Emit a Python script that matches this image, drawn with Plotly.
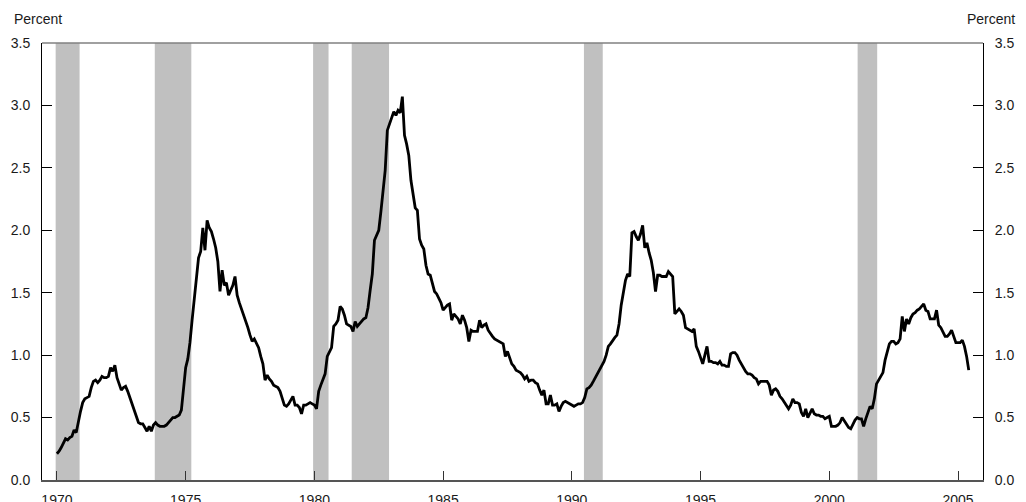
import plotly.graph_objects as go

# ---- data (monthly, Jan 1970 - Jun 2005) ----
start_year = 1970
v1970 = [0.21, 0.23, 0.26, 0.29, 0.33, 0.32, 0.34, 0.35, 0.40, 0.38, 0.48, 0.55]
v1971 = [0.62, 0.65, 0.66, 0.67, 0.74, 0.79, 0.80, 0.78, 0.80, 0.83, 0.82, 0.82]
v1972 = [0.83, 0.90, 0.87, 0.92, 0.82, 0.76, 0.72, 0.74, 0.75, 0.71, 0.66, 0.60]
v1973 = [0.55, 0.51, 0.46, 0.45, 0.45, 0.42, 0.39, 0.43, 0.39, 0.44, 0.46, 0.44]
v1974 = [0.43, 0.43, 0.43, 0.44, 0.46, 0.48, 0.50, 0.50, 0.51, 0.52, 0.56, 0.72]
v1975 = [0.90, 0.97, 1.10, 1.28, 1.45, 1.66, 1.78, 1.83, 2.02, 1.84, 2.08, 2.02]
v1976 = [1.99, 1.93, 1.86, 1.75, 1.51, 1.68, 1.56, 1.58, 1.48, 1.52, 1.56, 1.63]
v1977 = [1.48, 1.42, 1.37, 1.33, 1.28, 1.22, 1.16, 1.11, 1.13, 1.09, 1.06, 0.99]
v1978 = [0.93, 0.80, 0.84, 0.81, 0.79, 0.76, 0.75, 0.74, 0.71, 0.66, 0.60, 0.59]
v1979 = [0.61, 0.64, 0.67, 0.60, 0.60, 0.58, 0.53, 0.60, 0.60, 0.61, 0.62, 0.61]
v1980 = [0.60, 0.57, 0.71, 0.76, 0.80, 0.85, 0.99, 1.03, 1.06, 1.23, 1.25, 1.28]
v1981 = [1.39, 1.37, 1.32, 1.25, 1.24, 1.23, 1.19, 1.27, 1.23, 1.25, 1.27, 1.29]
v1982 = [1.30, 1.38, 1.52, 1.65, 1.92, 1.96, 2.00, 2.15, 2.30, 2.48, 2.80, 2.86]
v1983 = [2.90, 2.95, 2.92, 2.96, 2.94, 3.07, 2.76, 2.69, 2.60, 2.40, 2.30, 2.18]
v1984 = [2.16, 1.93, 1.88, 1.85, 1.72, 1.65, 1.64, 1.57, 1.51, 1.49, 1.46, 1.42]
v1985 = [1.36, 1.38, 1.40, 1.41, 1.28, 1.33, 1.31, 1.29, 1.25, 1.32, 1.28, 1.22]
v1986 = [1.11, 1.20, 1.19, 1.19, 1.19, 1.28, 1.22, 1.24, 1.25, 1.20, 1.17, 1.15]
v1987 = [1.13, 1.12, 1.11, 1.10, 1.09, 0.99, 1.03, 0.98, 0.93, 0.91, 0.88, 0.87]
v1988 = [0.86, 0.84, 0.81, 0.83, 0.79, 0.80, 0.80, 0.78, 0.77, 0.72, 0.68, 0.72]
v1989 = [0.61, 0.61, 0.68, 0.60, 0.60, 0.61, 0.55, 0.59, 0.62, 0.63, 0.62, 0.61]
v1990 = [0.60, 0.59, 0.60, 0.61, 0.61, 0.62, 0.66, 0.73, 0.74, 0.76, 0.79, 0.82]
v1991 = [0.85, 0.89, 0.92, 0.95, 1.00, 1.07, 1.09, 1.12, 1.14, 1.16, 1.25, 1.40]
v1992 = [1.52, 1.60, 1.65, 1.63, 1.98, 1.99, 1.95, 1.92, 1.97, 2.04, 1.86, 1.90]
v1993 = [1.82, 1.76, 1.66, 1.51, 1.64, 1.64, 1.63, 1.63, 1.63, 1.67, 1.65, 1.63]
v1994 = [1.33, 1.35, 1.37, 1.35, 1.32, 1.22, 1.21, 1.20, 1.19, 1.21, 1.07, 1.03]
v1995 = [0.98, 0.93, 1.00, 1.07, 0.95, 0.95, 0.94, 0.94, 0.93, 0.95, 0.92, 0.92]
v1996 = [0.91, 0.91, 1.01, 1.02, 1.02, 1.00, 0.96, 0.93, 0.89, 0.87, 0.85, 0.85]
v1997 = [0.84, 0.82, 0.81, 0.77, 0.79, 0.79, 0.79, 0.79, 0.76, 0.68, 0.72, 0.73]
v1998 = [0.71, 0.67, 0.65, 0.62, 0.59, 0.57, 0.60, 0.65, 0.62, 0.62, 0.61, 0.54]
v1999 = [0.51, 0.57, 0.50, 0.53, 0.57, 0.53, 0.52, 0.52, 0.51, 0.51, 0.49, 0.50]
v2000 = [0.51, 0.43, 0.43, 0.43, 0.44, 0.46, 0.50, 0.47, 0.44, 0.42, 0.41, 0.45]
v2001 = [0.48, 0.50, 0.49, 0.49, 0.43, 0.49, 0.55, 0.59, 0.57, 0.65, 0.77, 0.80]
v2002 = [0.83, 0.86, 0.96, 1.03, 1.09, 1.11, 1.11, 1.09, 1.10, 1.13, 1.31, 1.19]
v2003 = [1.29, 1.25, 1.30, 1.33, 1.34, 1.36, 1.37, 1.39, 1.41, 1.36, 1.35, 1.29]
v2004 = [1.29, 1.29, 1.36, 1.24, 1.22, 1.18, 1.15, 1.15, 1.17, 1.20, 1.14, 1.10]
v2005 = [1.10, 1.10, 1.12, 1.07, 0.99, 0.88]

yearly = [v1970, v1971, v1972, v1973, v1974, v1975, v1976, v1977, v1978, v1979,
          v1980, v1981, v1982, v1983, v1984, v1985, v1986, v1987, v1988, v1989,
          v1990, v1991, v1992, v1993, v1994, v1995, v1996, v1997, v1998, v1999,
          v2000, v2001, v2002, v2003, v2004, v2005]

# recession periods (decimal years)
rec_start = [1969.95, 1973.80, 1979.95, 1981.45, 1990.47, 2001.10]
rec_end = [1970.88, 1975.22, 1980.55, 1982.90, 1991.20, 2001.86]

tick_years = [1970, 1975, 1980, 1985, 1990, 1995, 2000, 2005]
tick_labels = [str(y) for y in tick_years]
y_ticks = [0.0, 0.5, 1.0, 1.5, 2.0, 2.5, 3.0, 3.5]

x_vals, y_vals = [], []
for i, vals in enumerate(yearly):
    for m, v in enumerate(vals):
        x_vals.append(start_year + i + m / 12.0)
        y_vals.append(v)

FONT = "Liberation Sans, Arial, sans-serif"
TXT = "#1a1a1a"

fig = go.Figure()
fig.add_trace(go.Scatter(x=x_vals, y=y_vals, mode="lines",
                         line=dict(color="black", width=2.8),
                         showlegend=False, hoverinfo="x+y"))
# invisible helper so the right axis is drawn
fig.add_trace(go.Scatter(x=[x_vals[0]], y=[y_vals[0]], yaxis="y2", mode="markers",
                         marker=dict(opacity=0), showlegend=False, hoverinfo="skip"))

shapes = []
for s, e in zip(rec_start, rec_end):
    shapes.append(dict(type="rect", xref="x", yref="y", x0=s, x1=e, y0=0, y1=3.5,
                       fillcolor="#c0c0c0", line=dict(width=0), layer="below"))
shapes.append(dict(type="line", xref="paper", yref="paper", x0=0, x1=1, y0=1, y1=1,
                   line=dict(color="#808080", width=1.5)))

fig.update_layout(
    template="none",
    width=1026, height=502,
    margin=dict(l=34, r=51, t=35, b=30, autoexpand=False),
    paper_bgcolor="white", plot_bgcolor="white",
    font=dict(family=FONT, size=14, color=TXT),
    shapes=shapes,
    xaxis=dict(range=[1969.42, 2005.97], tickmode="array", tickvals=tick_years,
               ticktext=tick_labels, ticks="inside", ticklen=9, tickwidth=1,
               tickcolor="#333333", showline=True, linecolor="#555555", linewidth=1.5,
               showgrid=False, zeroline=False, ticklabelstandoff=6, automargin=False,
               tickfont=dict(family=FONT, size=14, color=TXT)),
    yaxis=dict(range=[0, 3.5], tickmode="array", tickvals=y_ticks,
               ticktext=["%.1f" % v for v in y_ticks], ticks="inside", ticklen=10,
               tickwidth=1, tickcolor="black", showline=True, linecolor="black",
               linewidth=1, showgrid=False, zeroline=False, ticklabelstandoff=8,
               automargin=False, tickfont=dict(family=FONT, size=14, color=TXT)),
    yaxis2=dict(range=[0, 3.5], overlaying="y", side="right", tickmode="array",
                tickvals=y_ticks, ticktext=["%.1f" % v for v in y_ticks],
                ticks="inside", ticklen=10, tickwidth=1, tickcolor="black",
                showline=True, linecolor="black", linewidth=1, showgrid=False,
                zeroline=False, ticklabelstandoff=8, automargin=False,
                tickfont=dict(family=FONT, size=14, color=TXT)),
    annotations=[
        dict(text="Percent", xref="paper", yref="paper", x=-0.0319, y=1.055,
             xanchor="left", yanchor="middle", showarrow=False,
             font=dict(family=FONT, size=14, color=TXT)),
        dict(text="Percent", xref="paper", yref="paper", x=1.036, y=1.055,
             xanchor="right", yanchor="middle", showarrow=False,
             font=dict(family=FONT, size=14, color=TXT)),
    ],
)

fig.write_html("out.html")
